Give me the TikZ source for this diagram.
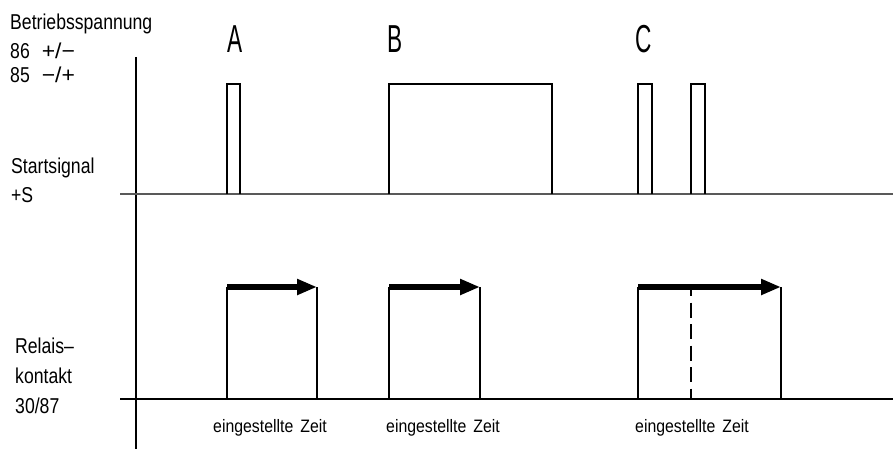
\documentclass[tikz,border=0pt]{standalone}
\usepackage{fontspec}
\setmainfont{Liberation Sans}
\newfontfamily\cadfont[FakeStretch=0.82]{Liberation Sans}
\newfontfamily\cadsmall[FakeStretch=0.88]{Liberation Sans}
\newfontfamily\cadbig[FakeStretch=0.58]{Liberation Sans}
\usetikzlibrary{arrows.meta}
\newcommand{\widesym}[1]{\scalebox{1.3}[1]{#1}}
\begin{document}
\begin{tikzpicture}[x=1pt,y=-1pt,
  lbl/.style={anchor=base west,inner sep=0pt,font=\cadfont\fontsize{21.5pt}{24pt}\selectfont},
  zeit/.style={anchor=base,inner sep=0pt,font=\cadsmall\fontsize{18pt}{20pt}\selectfont},
  letter/.style={anchor=base west,inner sep=0pt,font=\cadbig\fontsize{39pt}{42pt}\selectfont},
  axisline/.style={line width=2pt,black},
  baseline1/.style={line width=1.5pt,black!65},
  baseline2/.style={line width=1.6pt,black},
  signal/.style={line width=1.6pt,black},
  timearrow/.style={line width=5.5pt,-{Triangle[length=20pt,width=15pt]}},
  dashline/.style={line width=1.6pt,dash pattern=on 15pt off 6.5pt,dash phase=6pt}]
\useasboundingbox (0,0) rectangle (893,449);

% texts
\node[lbl] (betr) at (10,30) {Betriebsspannung};
\node[lbl] (u86) at (10,59) {86\hspace{12pt}\widesym{+/−}};
\node[lbl] (u85) at (10,83) {85\hspace{12pt}\widesym{−/+}};
\node[lbl] (start) at (11,173) {Startsignal};
\node[lbl] (plusS) at (11,202) {+S};
\node[lbl] (rel1) at (15,353) {Relais–};
\node[lbl] (rel2) at (15,383) {kontakt};
\node[lbl] (rel3) at (15,413) {30/87};

\node[letter] (A) at (227,53) {A};
\node[letter] (B) at (387,53) {B};
\node[letter] (C) at (635,53) {C};

\node[zeit] (zA) at (270,432) {eingestellte\hspace{7pt}Zeit};
\node[zeit] (zB) at (443,432) {eingestellte\hspace{7pt}Zeit};
\node[zeit] (zC) at (692,432) {eingestellte\hspace{7pt}Zeit};

% axes
\coordinate (axtop) at (136,57);
\coordinate (axbot) at (136,449);
\draw[axisline] (axtop) -- (axbot);
\coordinate (l1a) at (120,194);
\coordinate (l1b) at (893,194);
\draw[baseline1] (l1a) -- (l1b);
\coordinate (l2a) at (120,399);
\coordinate (l2b) at (893,399);
\draw[baseline2] (l2a) -- (l2b);

% start pulses
\draw[signal] (227,194) -- (227,84) -- (240,84) -- (240,194);
\draw[signal] (389,194) -- (389,84) -- (552,84) -- (552,194);
\draw[signal] (638,194) -- (638,84) -- (652,84) -- (652,194);
\draw[signal] (691,194) -- (691,84) -- (705,84) -- (705,194);

% relay contacts
\coordinate (a0) at (227,287); \coordinate (a1) at (317,287);
\coordinate (b0) at (389,287); \coordinate (b1) at (480,287);
\coordinate (c0) at (638,287); \coordinate (c1) at (781,287);
\coordinate (cm) at (691,287);
\draw[signal] (227,399) -- (a0);
\draw[signal] (a1) -- (317,399);
\draw[signal] (389,399) -- (b0);
\draw[signal] (b1) -- (480,399);
\draw[signal] (638,399) -- (c0);
\draw[signal] (c1) -- (781,399);
\draw[dashline] (cm) -- (691,399);

\draw[timearrow] (a0) -- (a1);
\draw[timearrow] (b0) -- (b1);
\draw[timearrow] (c0) -- (c1);
\end{tikzpicture}
\end{document}
